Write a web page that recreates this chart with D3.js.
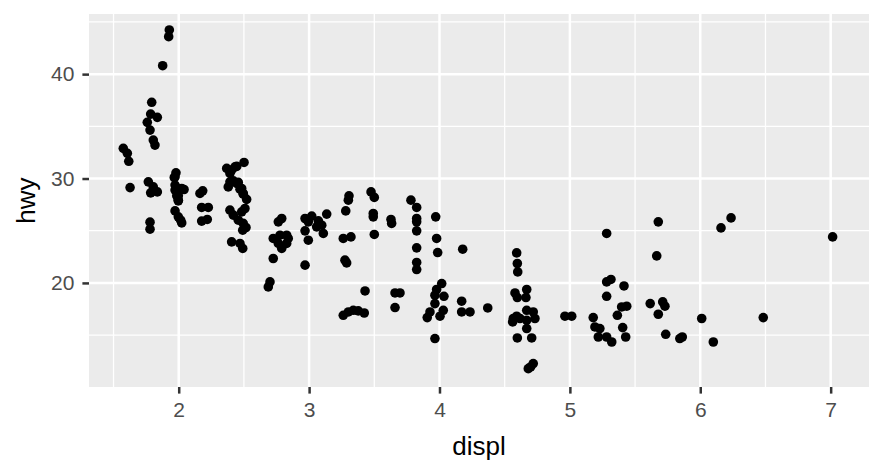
<!DOCTYPE html>
<html>
<head>
<meta charset="utf-8">
<script src="https://cdn.jsdelivr.net/npm/d3@7"></script>
<style>
  html, body { margin: 0; padding: 0; background: #fff; }
  svg { display: block; font-family: "Liberation Sans", Arial, sans-serif; }
</style>
</head>
<body>
<svg width="884" height="474"></svg>
<script>
// jittered displ / hwy values
const displ = [
  1.575, 1.606, 1.617, 1.627,
  1.793, 1.785, 1.836, 1.759, 1.780, 1.805, 1.818, 1.767, 1.805, 1.836, 1.785, 1.780, 1.780,
  1.928, 1.923, 1.877,
  1.979, 1.972, 1.972, 2.023, 1.972, 1.997, 1.997, 1.972, 1.997, 2.015, 2.041, 2.023,
  1.966, 1.985, 2.010, 1.997,
  2.184, 2.163, 2.176, 2.227, 2.176, 2.219,
  2.368, 2.406, 2.432, 2.501, 2.393, 2.393, 2.380, 2.445, 2.483, 2.495, 2.521, 2.508, 2.483,
  2.393, 2.419, 2.457, 2.495, 2.491, 2.516, 2.406, 2.470, 2.491,
  2.445, 2.419, 2.457, 2.470, 2.495,
  2.790, 2.764, 2.725, 2.777, 2.828, 2.840, 2.764, 2.790, 2.725, 2.700, 2.687, 2.828,
  2.969, 3.020, 2.994, 3.071, 3.097, 3.135, 3.058, 3.109, 2.969, 2.994, 2.969,
  3.281, 3.301, 3.306, 3.262, 3.321, 3.275, 3.288, 3.262, 3.301, 3.339, 3.377, 3.423, 3.429,
  3.475, 3.500, 3.492, 3.492, 3.500, 3.628, 3.633, 3.659, 3.697, 3.659,
  3.781, 3.825, 3.825, 3.825, 3.825, 3.825, 3.825, 3.825, 3.971, 3.978, 3.986, 4.178,
  4.017, 3.978, 4.034, 3.965, 3.965, 3.927, 3.906, 4.029, 4.004, 3.965, 4.170, 4.170, 4.234, 4.370,
  4.592, 4.597, 4.600, 4.579, 4.669, 4.597, 4.663, 4.566, 4.561, 4.617, 4.669, 4.719, 4.732,
  4.669, 4.669, 4.592, 4.597, 4.707, 4.719, 4.681, 4.699,
  4.962, 5.014,
  5.282, 5.282, 5.315, 5.415, 5.282, 5.179, 5.192, 5.230, 5.218, 5.282, 5.321, 5.364, 5.397,
  5.436, 5.405, 5.428,
  5.678, 5.666, 5.616, 5.712, 5.729, 5.678, 5.735, 5.862, 5.843,
  6.159, 6.236, 6.011, 6.100, 6.483, 7.015
];
const hwy = [
  32.89, 32.41, 31.65, 29.13,
  37.30, 36.17, 35.86, 35.38, 34.64, 33.68, 33.20, 29.68, 29.20, 28.72, 28.63, 25.82, 25.15,
  44.23, 43.59, 40.81,
  30.55, 30.16, 29.37, 29.05, 28.89, 27.93, 28.34, 26.90, 26.33, 26.01, 28.95, 25.75,
  30.10, 28.34, 28.98, 27.86,
  28.82, 28.57, 27.23, 27.23, 25.92, 26.08,
  30.97, 30.81, 31.12, 31.54, 30.49, 29.68, 29.20, 29.53, 29.05, 28.57, 28.00, 27.13, 26.81,
  26.97, 26.49, 26.01, 25.70, 25.05, 25.31, 23.93, 23.78, 23.30,
  31.16, 29.78, 29.63, 28.98, 28.50,
  26.17, 25.85, 24.26, 24.57, 24.57, 24.26, 23.78, 23.30, 22.34, 20.10, 19.62, 23.78,
  26.17, 26.40, 25.85, 25.94, 25.53, 26.59, 25.37, 24.74, 24.99, 24.09, 21.70,
  26.90, 27.93, 28.34, 24.26, 24.41, 22.18, 21.92, 16.90, 17.22, 17.38, 17.32, 17.12, 19.23,
  28.72, 28.19, 26.65, 26.33, 24.64, 26.08, 25.70, 19.04, 19.04, 17.64,
  27.93, 27.23, 26.17, 25.85, 24.99, 23.36, 21.96, 21.28, 26.33, 24.26, 22.91, 23.23,
  19.94, 19.37, 18.72, 18.82, 18.02, 17.22, 16.68, 17.38, 16.81, 14.67, 18.25, 17.22, 17.22, 17.60,
  22.88, 21.86, 21.05, 19.04, 19.37, 18.60, 18.60, 16.59, 16.26, 16.59, 17.38, 17.22, 16.59,
  16.42, 15.63, 16.81, 14.73, 14.73, 12.27, 11.79, 11.95,
  16.81, 16.81,
  24.74, 20.10, 20.33, 19.71, 18.72, 16.68, 15.78, 15.63, 14.82, 14.82, 14.34, 16.90, 17.70,
  17.77, 15.72, 14.82,
  25.85, 22.59, 18.02, 18.18, 17.77, 17.00, 15.08, 14.82, 14.67,
  25.27, 26.23, 16.59, 14.34, 16.68, 24.41
];
const xTicks = [2, 3, 4, 5, 6, 7];
const xMinor = [1.5, 2.5, 3.5, 4.5, 5.5, 6.5];
const yTicks = [20, 30, 40];
const yMinor = [15, 25, 35, 45];

const points = displ.map((d, i) => ({displ: d, hwy: hwy[i]}));

const panel = {left: 89, right: 869, top: 14, bottom: 387};

const svg = d3.select("svg");

const x = d3.scaleLinear().domain([1.312, 7.294]).range([panel.left, panel.right]);
const y = d3.scaleLinear().domain([10.03, 45.76]).range([panel.bottom, panel.top]);

// panel background
svg.append("rect")
  .attr("x", panel.left)
  .attr("y", panel.top)
  .attr("width", panel.right - panel.left)
  .attr("height", panel.bottom - panel.top)
  .attr("fill", "#EBEBEB");

const grid = svg.append("g");

// minor grid
grid.selectAll(".xminor").data(xMinor).enter().append("line")
  .attr("x1", d => x(d)).attr("x2", d => x(d))
  .attr("y1", panel.top).attr("y2", panel.bottom)
  .attr("stroke", "#fff").attr("stroke-width", 1.28);
grid.selectAll(".yminor").data(yMinor).enter().append("line")
  .attr("x1", panel.left).attr("x2", panel.right)
  .attr("y1", d => y(d)).attr("y2", d => y(d))
  .attr("stroke", "#fff").attr("stroke-width", 1.28);

// major grid
grid.selectAll(".xmajor").data(xTicks).enter().append("line")
  .attr("x1", d => x(d)).attr("x2", d => x(d))
  .attr("y1", panel.top).attr("y2", panel.bottom)
  .attr("stroke", "#fff").attr("stroke-width", 2.5);
grid.selectAll(".ymajor").data(yTicks).enter().append("line")
  .attr("x1", panel.left).attr("x2", panel.right)
  .attr("y1", d => y(d)).attr("y2", d => y(d))
  .attr("stroke", "#fff").attr("stroke-width", 2.5);

// points
svg.append("g").selectAll("circle")
  .data(points)
  .enter()
    .append("circle")
    .attr("cx", d => x(d.displ))
    .attr("cy", d => y(d.hwy))
    .attr("r", 4.8)
    .attr("fill", "#000");

// axes
const xAxis = svg.append("g")
  .attr("transform", `translate(0,${panel.bottom})`)
  .call(d3.axisBottom(x).tickValues(xTicks).tickSize(6.6).tickPadding(8).tickFormat(d3.format("d")));
const yAxis = svg.append("g")
  .attr("transform", `translate(${panel.left},0)`)
  .call(d3.axisLeft(y).tickValues(yTicks).tickSize(6.6).tickPadding(8).tickFormat(d3.format("d")));

[xAxis, yAxis].forEach(ax => {
  ax.select(".domain").remove();
  ax.selectAll(".tick line").attr("stroke", "#333333").attr("stroke-width", 2.5);
  ax.selectAll(".tick text")
    .attr("fill", "#4D4D4D")
    .attr("font-size", "21px")
    .attr("font-family", "Liberation Sans, Arial, sans-serif");
});

// axis titles
svg.append("text")
  .attr("x", (panel.left + panel.right) / 2)
  .attr("y", 455)
  .attr("text-anchor", "middle")
  .attr("font-size", "26px")
  .attr("fill", "#000")
  .text("displ");

svg.append("text")
  .attr("transform", `translate(35,${(panel.top + panel.bottom) / 2}) rotate(-90)`)
  .attr("text-anchor", "middle")
  .attr("font-size", "26px")
  .attr("fill", "#000")
  .text("hwy");
</script>
</body>
</html>
